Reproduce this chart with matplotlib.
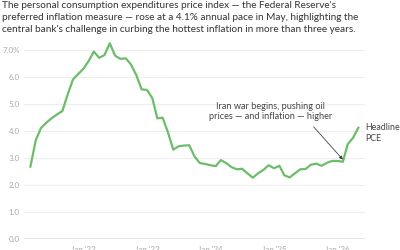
import matplotlib
matplotlib.use("Agg")
import matplotlib.pyplot as plt
import matplotlib.dates as mdates
import pandas as pd
import numpy as np

plt.rcParams['font.family'] = ['Lato', 'DejaVu Sans']

start_month = "2021-03-01"
pce = [2.67, 3.65, 4.1, 4.3, 4.46, 4.6, 4.73, 5.33, 5.9, 6.1, 6.3, 6.6,
       6.93, 6.70, 6.80, 7.24, 6.78, 6.66, 6.68, 6.45, 6.05, 5.53, 5.51, 5.2,
       4.46, 4.48, 3.95, 3.3, 3.42, 3.45, 3.46, 3.05, 2.8, 2.77, 2.72, 2.69,
       2.91, 2.8, 2.65, 2.57, 2.59, 2.42, 2.26, 2.42, 2.55, 2.72, 2.61, 2.70,
       2.35, 2.27, 2.42, 2.57, 2.58, 2.74, 2.78, 2.70, 2.81, 2.88, 2.88, 2.85,
       3.5, 3.74, 4.11]
y_ticks = [0, 1, 2, 3, 4, 5, 6, 7]
y_labels = ["0.0", "1.0", "2.0", "3.0", "4.0", "5.0", "6.0", "7.0%"]
x_tick_dates = ["2022-01-01", "2023-01-01", "2024-01-01", "2025-01-01", "2026-01-01"]
x_labels = ["Jan '22", "Jan '23", "Jan '24", "Jan '25", "Jan '26"]
title = ("The personal consumption expenditures price index — the Federal Reserve's\n"
         "preferred inflation measure — rose at a 4.1% annual pace in May, highlighting the\n"
         "central bank's challenge in curbing the hottest inflation in more than three years.")
annot_text = "Iran war begins, pushing oil\nprices — and inflation — higher"
annot_date = "2026-02-01"
series_label = "Headline\nPCE"

dates = pd.date_range(start_month, periods=len(pce), freq="MS")

fig = plt.figure(figsize=(4, 2.5), dpi=100)
ax = fig.add_axes([24/400, (250-238.7)/250, 341/400, 7.4*27/250])

ax.plot(dates, pce, color="#6cbd6a", lw=1.6, solid_joinstyle="round", zorder=3)

for s in ax.spines.values():
    s.set_visible(False)
ax.set_ylim(0, 7.4)
xl = mdates.date2num(pd.Timestamp(start_month)) - 1.21*30.44
xr = mdates.date2num(pd.Timestamp(start_month)) + 63.25*30.44
ax.set_xlim(xl, xr)
ax.set_yticks(y_ticks)
ax.set_yticklabels(y_labels)
ax.yaxis.grid(True, color="#eeeeee", lw=0.8)
ax.set_axisbelow(True)
ax.axhline(0, color="#888888", lw=1.0, zorder=2)
ax.set_xticks([pd.Timestamp(d) for d in x_tick_dates])
ax.set_xticklabels(x_labels)
ax.tick_params(axis="both", length=0, labelsize=5.8, labelcolor="#aaaaaa")
ax.tick_params(axis="y", pad=3)
ax.tick_params(axis="x", pad=5)

fig.text(2/400, 1 - 1.5/250, title, ha="left", va="top", fontsize=7.2,
         color="#333333", linespacing=1.42)

ad = pd.Timestamp(annot_date)
ai = list(dates).index(ad)
ax.annotate(annot_text, xy=(ad, pce[ai] + 0.08), xytext=(pd.Timestamp("2024-12-10"), 4.72),
            ha="center", va="center", fontsize=6.6, color="#444444", linespacing=1.2,
            arrowprops=dict(arrowstyle="-|>", color="#444444", lw=0.6,
                            mutation_scale=5, shrinkA=3, shrinkB=0,
                            relpos=(0.81, 0.0)))
ax.annotate(series_label, xy=(dates[-1], pce[-1]), xytext=(4.8, -3.6),
            textcoords="offset points", ha="left", va="center", fontsize=6.4,
            color="#444444", linespacing=1.25, annotation_clip=False)

fig.savefig("out.png", dpi=100)
